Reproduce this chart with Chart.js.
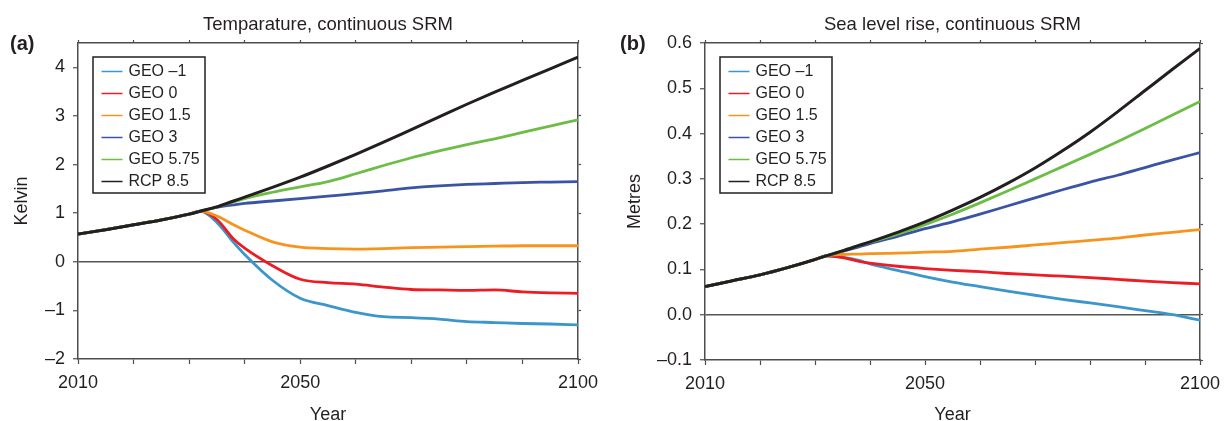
<!DOCTYPE html>
<html>
<head>
<meta charset="utf-8">
<script src="https://cdn.jsdelivr.net/npm/chart.js@4.4.1/dist/chart.umd.min.js"></script>
<style>
  html, body { margin: 0; padding: 0; background: #fff; }
  #wrap { position: relative; width: 1226px; height: 421px; }
  .panel { position: absolute; top: 0; height: 421px; }
  #panelA { left: 0; width: 610px; }
  #panelB { left: 610px; width: 616px; }
</style>
</head>
<body>
<div id="wrap">
  <div class="panel" id="panelA"><canvas id="tempChart" width="610" height="421"></canvas></div>
  <div class="panel" id="panelB"><canvas id="seaChart" width="616" height="421"></canvas></div>
</div>
<script>
// ---- data ----
const years = [2010, 2015, 2020, 2025, 2030, 2032, 2035, 2038, 2040, 2045, 2050,
  2055, 2060, 2065, 2070, 2075, 2080, 2085, 2090, 2095, 2100];

const seriesNames = ["GEO \u20131", "GEO 0", "GEO 1.5", "GEO 3", "GEO 5.75", "RCP 8.5"];
const seriesColors = ["#3b96cb", "#ec1c24", "#f7941d", "#3a53a4", "#6cbd45", "#231f20"];

// Temperature (Kelvin)
const tempGeoM1 = [0.57, 0.66, 0.76, 0.86, 0.98, 1.04, 0.81, 0.40, 0.15, -0.38, -0.75,
  -0.90, -1.04, -1.13, -1.15, -1.18, -1.23, -1.25, -1.27, -1.28, -1.30];
const tempGeo0 = [0.57, 0.66, 0.76, 0.86, 0.98, 1.04, 0.87, 0.47, 0.28, -0.08, -0.36,
  -0.43, -0.46, -0.52, -0.57, -0.58, -0.59, -0.58, -0.62, -0.64, -0.65];
const tempGeo15 = [0.57, 0.66, 0.76, 0.86, 0.98, 1.04, 0.94, 0.76, 0.65, 0.41, 0.30,
  0.27, 0.26, 0.27, 0.29, 0.30, 0.31, 0.32, 0.33, 0.33, 0.33];
const tempGeo3 = [0.57, 0.66, 0.76, 0.86, 0.98, 1.04, 1.12, 1.17, 1.20, 1.25, 1.30,
  1.35, 1.40, 1.46, 1.52, 1.56, 1.59, 1.61, 1.63, 1.64, 1.65];
const tempGeo575 = [0.57, 0.66, 0.76, 0.86, 0.98, 1.04, 1.13, 1.23, 1.30, 1.43, 1.54,
  1.65, 1.81, 1.98, 2.14, 2.28, 2.41, 2.53, 2.66, 2.79, 2.92];
const tempRcp85 = [0.57, 0.66, 0.76, 0.86, 0.98, 1.04, 1.13, 1.25, 1.33, 1.53, 1.74,
  1.97, 2.21, 2.46, 2.72, 2.98, 3.24, 3.49, 3.73, 3.97, 4.21];

// Sea level rise (metres)
const seaGeoM1 = [0.062, 0.075, 0.088, 0.104, 0.122, 0.130, 0.127, 0.120, 0.112, 0.098, 0.084,
  0.072, 0.062, 0.052, 0.043, 0.034, 0.026, 0.018, 0.009, 0.000, -0.012];
const seaGeo0 = [0.062, 0.075, 0.088, 0.104, 0.122, 0.130, 0.126, 0.118, 0.114, 0.107, 0.102,
  0.098, 0.095, 0.091, 0.088, 0.085, 0.082, 0.078, 0.074, 0.071, 0.068];
const seaGeo15 = [0.062, 0.075, 0.088, 0.104, 0.122, 0.130, 0.133, 0.134, 0.135, 0.136, 0.138,
  0.140, 0.145, 0.149, 0.154, 0.159, 0.164, 0.169, 0.176, 0.182, 0.188];
const seaGeo3 = [0.062, 0.075, 0.088, 0.104, 0.122, 0.130, 0.140, 0.150, 0.157, 0.173, 0.190,
  0.205, 0.222, 0.240, 0.258, 0.276, 0.293, 0.308, 0.325, 0.342, 0.358];
const seaGeo575 = [0.062, 0.075, 0.088, 0.104, 0.122, 0.130, 0.141, 0.153, 0.160, 0.178, 0.199,
  0.222, 0.247, 0.273, 0.300, 0.327, 0.354, 0.382, 0.411, 0.441, 0.471];
const seaRcp85 = [0.062, 0.075, 0.088, 0.104, 0.122, 0.130, 0.141, 0.153, 0.161, 0.182, 0.205,
  0.231, 0.259, 0.290, 0.324, 0.362, 0.403, 0.448, 0.495, 0.542, 0.588];

// axes
const xTicks = [2010, 2020, 2030, 2040, 2050, 2060, 2070, 2080, 2090, 2100];
const xLabels = [2010, 2050, 2100];
const tempTicks = [-2, -1, 0, 1, 2, 3, 4];
const seaTicks = [-0.1, 0.0, 0.1, 0.2, 0.3, 0.4, 0.5, 0.6];

const FONT = '"Liberation Sans", Arial, Helvetica, sans-serif';
const TEXT = "#231f20";
const FRAME = "#4d4d4d";
Chart.defaults.font.family = FONT;
Chart.defaults.color = TEXT;

function minus(s) {
  return s.replace("-", "\u2013");
}

// title, panel letter and boxed legend drawn over the chart
const panelDecor = {
  id: "panelDecor",
  afterDraw(chart, args, opts) {
    const { ctx, chartArea: a } = chart;
    ctx.save();
    ctx.fillStyle = TEXT;
    ctx.font = "18.5px " + FONT;
    ctx.textAlign = "center";
    ctx.textBaseline = "alphabetic";
    ctx.fillText(opts.title, (a.left + a.right) / 2, 29.5);

    ctx.font = "bold 20px " + FONT;
    ctx.textAlign = "left";
    ctx.textBaseline = "middle";
    ctx.fillText(opts.letter, 10, 44);

    // legend
    const bx = a.left + 15, by = a.top + 14, bw = 112, bh = 136;
    ctx.fillStyle = "#fff";
    ctx.fillRect(bx, by, bw, bh);
    ctx.lineWidth = 1.5;
    ctx.strokeStyle = TEXT;
    ctx.strokeRect(bx, by, bw, bh);
    ctx.font = "16px " + FONT;
    chart.data.datasets.forEach((ds, i) => {
      const y = by + 14.5 + i * 22;
      ctx.strokeStyle = ds.borderColor;
      ctx.lineWidth = 1.5;
      ctx.beginPath();
      ctx.moveTo(bx + 8.5, y);
      ctx.lineTo(bx + 29.5, y);
      ctx.stroke();
      ctx.fillStyle = TEXT;
      ctx.fillText(ds.label, bx + 35.5, y + 0.5);
    });
    ctx.restore();
  }
};

function makeDatasets(arrays) {
  return arrays.map((vals, i) => ({
    label: seriesNames[i],
    data: years.map((yr, j) => ({ x: yr, y: vals[j] })),
    borderColor: seriesColors[i],
    backgroundColor: seriesColors[i],
    borderWidth: i === 5 ? 3 : 2.8,
    pointRadius: 0,
    cubicInterpolationMode: "monotone",
    order: arrays.length - i,
  }));
}

function makeChart(canvas, cfg) {
  return new Chart(canvas, {
    type: "line",
    data: { datasets: makeDatasets(cfg.arrays) },
    options: {
      responsive: false,
      animation: false,
      devicePixelRatio: 1,
      layout: {
        autoPadding: false,
        padding: { top: 43, right: cfg.padRight, left: 0, bottom: 0 },
      },
      plugins: {
        legend: { display: false },
        tooltip: { enabled: false },
        panelDecor: { title: cfg.title, letter: cfg.letter },
      },
      scales: {
        x: {
          type: "linear",
          position: "bottom",
          min: 2010,
          max: 2100,
          afterBuildTicks: (s) => { s.ticks = xTicks.map((v) => ({ value: v })); },
          afterFit: (s) => { s.height = cfg.xHeight; },
          ticks: {
            autoSkip: false,
            maxRotation: 0,
            padding: 0,
            font: { size: 18, lineHeight: 2.1 },
            color: TEXT,
            callback: (v) => (xLabels.includes(v) ? String(v) : ""),
          },
          grid: { drawOnChartArea: false, tickLength: 5, tickColor: FRAME, tickWidth: 1.2 },
          border: { color: FRAME, width: 1.5 },
          title: { display: true, text: "Year", font: { size: 18 }, color: TEXT, padding: { top: 0, bottom: -4.5 } },
        },
        x2: {
          type: "linear",
          position: "top",
          min: 2010,
          max: 2100,
          afterBuildTicks: (s) => { s.ticks = xTicks.map((v) => ({ value: v })); },
          afterFit: (s) => { s.height = 0; },
          ticks: { display: false },
          grid: { drawOnChartArea: false, tickLength: 3, tickColor: FRAME, tickWidth: 1.2 },
          border: { color: FRAME, width: 1.5 },
        },
        y: {
          type: "linear",
          position: "left",
          min: cfg.yMin,
          max: cfg.yMax,
          afterBuildTicks: (s) => { s.ticks = cfg.yTicks.map((v) => ({ value: v })); },
          afterFit: (s) => { s.width = cfg.yWidth; },
          ticks: {
            padding: 8,
            font: { size: 18 },
            color: TEXT,
            callback: (v) => minus(v.toFixed(cfg.decimals)),
          },
          grid: {
            drawOnChartArea: true,
            tickLength: 5,
            tickColor: FRAME,
            tickWidth: 1.2,
            color: (c) => (c.tick && Math.abs(c.tick.value) < 1e-9 ? "#555555" : "rgba(0,0,0,0)"),
            lineWidth: 1.5,
          },
          border: { color: FRAME, width: 1.5 },
          title: { display: true, text: cfg.yTitle, font: { size: 18 }, color: TEXT, padding: { top: cfg.yTitlePad, bottom: 0 } },
        },
        y2: {
          type: "linear",
          position: "right",
          min: cfg.yMin,
          max: cfg.yMax,
          afterBuildTicks: (s) => { s.ticks = cfg.yTicks.map((v) => ({ value: v })); },
          afterFit: (s) => { s.width = 0; },
          ticks: { display: false },
          grid: { drawOnChartArea: false, tickLength: 3, tickColor: FRAME, tickWidth: 1.2 },
          border: { color: FRAME, width: 1.5 },
        },
      },
    },
    plugins: [panelDecor],
  });
}

makeChart(document.getElementById("tempChart"), {
  arrays: [tempGeoM1, tempGeo0, tempGeo15, tempGeo3, tempGeo575, tempRcp85],
  title: "Temparature, continuous SRM",
  letter: "(a)",
  yTitle: "Kelvin",
  yTicks: tempTicks,
  yMin: -2,
  yMax: 4.5,
  decimals: 0,
  yWidth: 78,
  yTitlePad: 11,
  xHeight: 62,
  padRight: 32,
});

makeChart(document.getElementById("seaChart"), {
  arrays: [seaGeoM1, seaGeo0, seaGeo15, seaGeo3, seaGeo575, seaRcp85],
  title: "Sea level rise, continuous SRM",
  letter: "(b)",
  yTitle: "Metres",
  yTicks: seaTicks,
  yMin: -0.1,
  yMax: 0.6,
  decimals: 1,
  yWidth: 95,
  yTitlePad: 14,
  xHeight: 61,
  padRight: 26,
});
</script>
</body>
</html>
